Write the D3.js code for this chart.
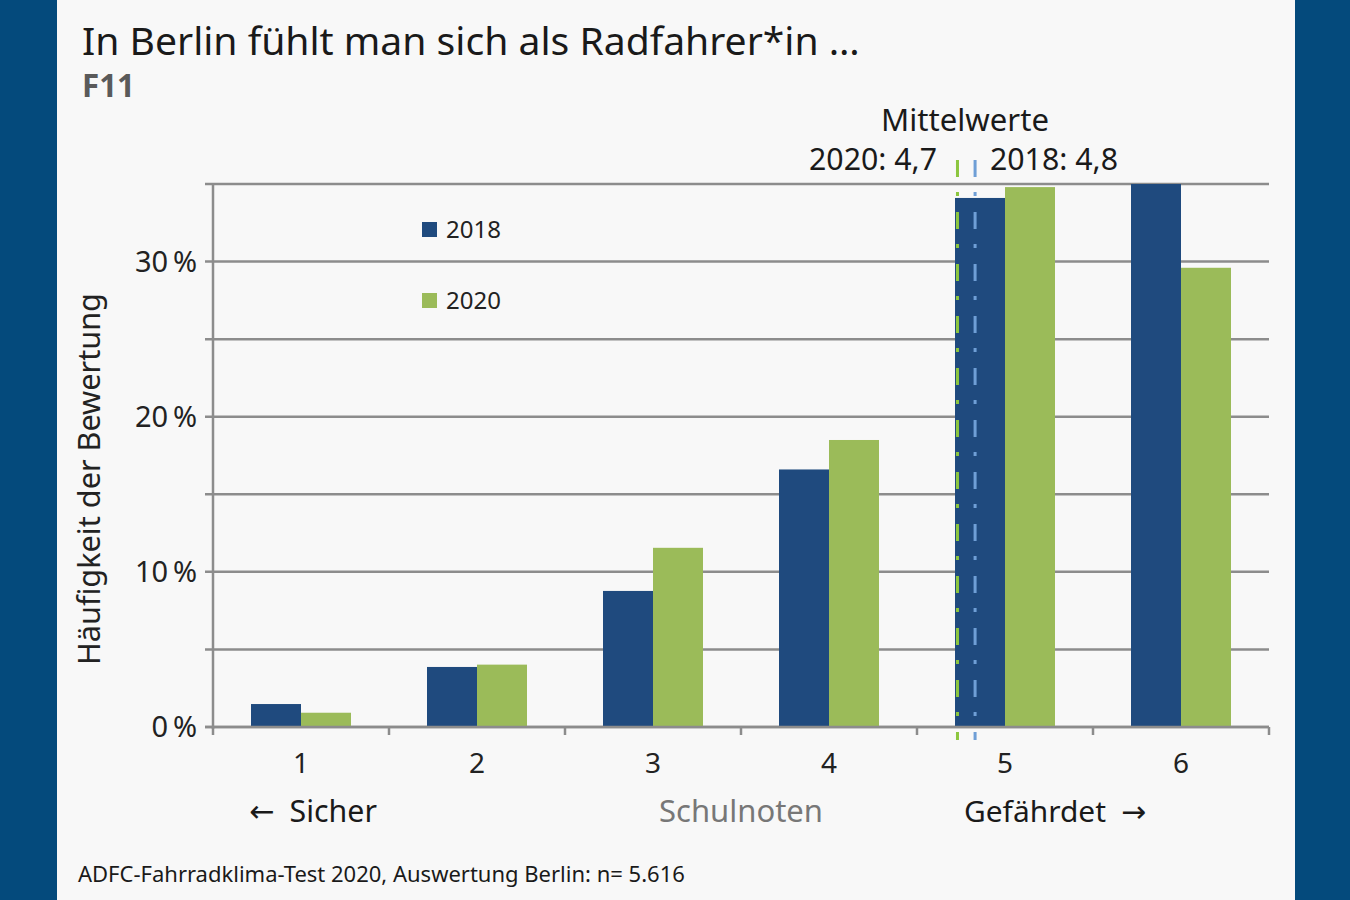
<!DOCTYPE html>
<html><head><meta charset="utf-8">
<script src="https://cdn.jsdelivr.net/npm/d3@7"></script>
<style>
html,body{margin:0;padding:0;background:#044a7c;}
svg{display:block;font-family:"Noto Sans","Open Sans",sans-serif;}
</style></head>
<body>
<svg id="c" width="1350" height="900"></svg>
<script>
// ---- data ----
const categories = ["1","2","3","4","5","6"];
const seriesNames = ["2018","2020"];
const values2018 = [1.48, 3.87, 8.77, 16.6, 34.1, 35.0];
const values2020 = [0.92, 4.02, 11.55, 18.5, 34.8, 29.6];
const yTicks = [0, 10, 20, 30];
const gridTicks = [0, 5, 10, 15, 20, 25, 30, 35];
const means = [{name:"2020", value:4.73, label:"2020: 4,7"}, {name:"2018", value:4.83, label:"2018: 4,8"}];

const colors = {"2018":"#1f4a7e","2020":"#9bbb59"};
const meanColors = {"2020":"#8cc63f","2018":"#6f9fd6"};

(function(){
const svg = d3.select("#c");
svg.append("rect").attr("x",0).attr("y",0).attr("width",1350).attr("height",900).attr("fill","#044a7c");
svg.append("rect").attr("x",57).attr("y",0).attr("width",1238).attr("height",900).attr("fill","#f8f8f8");

function fit(sel, w){
  const n = sel.node();
  const fs = parseFloat(sel.attr("font-size"));
  const len = n.getComputedTextLength();
  if (len > 0) sel.attr("font-size", fs * w / len);
  return sel;
}

const pLeft = 213, pRight = 1269, pTop = 184, pBottom = 727;
const x = d3.scaleBand().domain(categories).range([pLeft, pRight]).paddingInner(0).paddingOuter(0);
const bw = x.bandwidth();
const x1 = d3.scaleBand().domain(seriesNames).range([(bw-100)/2, (bw+100)/2]);
const y = d3.scaleLinear().domain([0,35]).range([pBottom, pTop]);
const grade = d3.scaleLinear().domain([1,6]).range([x("1")+bw/2, x("6")+bw/2]);

const gridCol = "#8c8c8c";
svg.append("g").selectAll("line").data(gridTicks).join("line")
  .attr("x1", pLeft-8).attr("x2", pRight)
  .attr("y1", d=>y(d)).attr("y2", d=>y(d))
  .attr("stroke", gridCol).attr("stroke-width", 2.5);

const data = categories.map((c,i)=>({cat:c, vals:[{s:"2018",v:values2018[i]},{s:"2020",v:values2020[i]}]}));
const g = svg.append("g");
g.selectAll("g").data(data).join("g")
  .attr("transform", d=>`translate(${x(d.cat)},0)`)
  .selectAll("rect").data(d=>d.vals).join("rect")
  .attr("x", d=>x1(d.s)).attr("width", x1.bandwidth())
  .attr("y", d=>y(d.v)).attr("height", d=>y(0)-y(d.v))
  .attr("fill", d=>colors[d.s]);

svg.append("line").attr("x1",pLeft).attr("x2",pLeft).attr("y1",pTop).attr("y2",pBottom+2)
  .attr("stroke",gridCol).attr("stroke-width",2.5);
svg.append("line").attr("x1",pLeft-8).attr("x2",pRight).attr("y1",pBottom).attr("y2",pBottom)
  .attr("stroke",gridCol).attr("stroke-width",2.5);
const bounds = categories.map(c=>x(c)).concat([pRight]);
svg.append("g").selectAll("line").data(bounds).join("line")
  .attr("x1",d=>d).attr("x2",d=>d).attr("y1",pBottom).attr("y2",pBottom+8)
  .attr("stroke",gridCol).attr("stroke-width",2.5);

svg.append("g").selectAll("line").data(means).join("line")
  .attr("x1", d=>grade(d.value)).attr("x2", d=>grade(d.value))
  .attr("y1", 160).attr("y2", 740)
  .attr("stroke", d=>meanColors[d.name]).attr("stroke-width", 3)
  .attr("stroke-dasharray", "17,15,4,16");

svg.append("g").selectAll("text").data(yTicks).join("text")
  .attr("x", 197).attr("y", d=>y(d)+10)
  .attr("text-anchor","end").attr("font-size",29).attr("fill","#222")
  .text(d=>d+"\u2009%");

svg.append("g").selectAll("text").data(categories).join("text")
  .attr("x", d=>x(d)+bw/2).attr("y", 773)
  .attr("text-anchor","middle").attr("font-size",28).attr("fill","#222")
  .text(d=>d);

const yt = svg.append("text").attr("transform","translate(100,479) rotate(-90)")
  .attr("text-anchor","middle").attr("font-size",26).attr("fill","#222")
  .text("Häufigkeit der Bewertung");
fit(yt, 372);

const title = svg.append("text").attr("x",82).attr("y",55).attr("font-size",38).attr("fill","#1a1a1a")
  .text("In Berlin fühlt man sich als Radfahrer*in …");
fit(title, 778);
const f11 = svg.append("text").attr("x",82).attr("y",97).attr("font-size",26).attr("font-weight","bold").attr("fill","#5a5a5a")
  .text("F11");
fit(f11, 53);

const leg = svg.append("g");
seriesNames.forEach((s,i)=>{
  const yy = 222 + i*71;
  leg.append("rect").attr("x",422).attr("y",yy).attr("width",15).attr("height",15).attr("fill",colors[s]);
  leg.append("text").attr("x",446).attr("y",yy+16).attr("font-size",24).attr("fill","#222").text(s);
});

const mw = svg.append("text").attr("x",965).attr("y",131).attr("text-anchor","middle")
  .attr("font-size",28).attr("fill","#1a1a1a").text("Mittelwerte");
fit(mw, 168);
const m20 = svg.append("text").attr("x",937).attr("y",170).attr("text-anchor","end")
  .attr("font-size",28).attr("fill","#1a1a1a").text(means[0].label);
fit(m20, 128);
const m18 = svg.append("text").attr("x",990).attr("y",170).attr("text-anchor","start")
  .attr("font-size",28).attr("fill","#1a1a1a").text(means[1].label);
fit(m18, 128);

// bottom labels with DejaVu arrows
const s1 = svg.append("text").attr("x",249).attr("y",822)
  .attr("font-size",28).attr("fill","#1a1a1a");
s1.append("tspan").attr("font-family","DejaVu Sans").text("←");
s1.append("tspan").text("\u2002Sicher");
fit(s1, 128);
const s2 = svg.append("text").attr("x",741).attr("y",822).attr("text-anchor","middle")
  .attr("font-size",28).attr("fill","#777").text("Schulnoten");
fit(s2, 164);
const s3 = svg.append("text").attr("x",964).attr("y",822)
  .attr("font-size",28).attr("fill","#1a1a1a");
s3.append("tspan").text("Gefährdet\u2002");
s3.append("tspan").attr("font-family","DejaVu Sans").text("→");
fit(s3, 182);

const ft = svg.append("text").attr("x",78).attr("y",882).attr("font-size",22).attr("fill","#1a1a1a")
  .text("ADFC-Fahrradklima-Test 2020, Auswertung Berlin: n= 5.616");
fit(ft, 607);
})();
</script>
</body></html>
